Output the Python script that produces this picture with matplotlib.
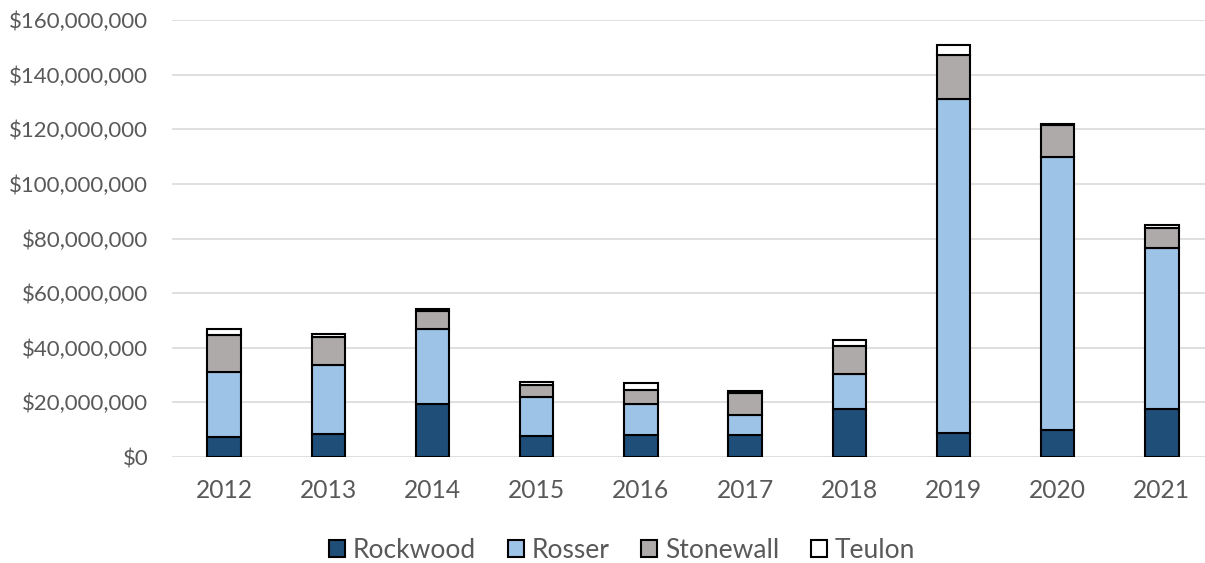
import matplotlib
matplotlib.use("Agg")
import matplotlib.pyplot as plt
from matplotlib.ticker import FuncFormatter, MultipleLocator
from matplotlib.patches import Patch
import numpy as np

years = ["2012", "2013", "2014", "2015", "2016", "2017", "2018", "2019", "2020", "2021"]
series_names = ["Rockwood", "Rosser", "Stonewall", "Teulon"]
# cumulative tops of each segment (millions of dollars)
rockwood_top = [7.4, 8.3, 19.5, 7.8, 8.1, 7.9, 17.6, 8.9, 9.9, 17.5]
rosser_top = [31.1, 33.8, 47.0, 22.0, 19.4, 15.3, 30.3, 131.0, 110.0, 76.6]
stonewall_top = [44.7, 43.8, 53.5, 26.4, 24.5, 23.6, 40.8, 147.3, 121.4, 83.8]
teulon_top = [46.7, 45.0, 54.3, 27.4, 27.0, 24.3, 42.9, 150.9, 121.9, 85.1]

rockwood = np.array(rockwood_top) * 1e6
rosser = (np.array(rosser_top) - np.array(rockwood_top)) * 1e6
stonewall = (np.array(stonewall_top) - np.array(rosser_top)) * 1e6
teulon = (np.array(teulon_top) - np.array(stonewall_top)) * 1e6

colors = ["#1F4E79", "#9DC3E6", "#AEAAAA", "#FFFFFF"]
text_color = "#595959"
font = "Lato"

fig = plt.figure(figsize=(12.05, 5.63), dpi=100)
ax = fig.add_axes([172 / 1205, 1 - 457 / 563, (1214 - 172) / 1205, (457 - 20) / 563])

x = np.arange(len(years))
w = 0.32
bottom = np.zeros(len(years))
for vals, c, name in zip([rockwood, rosser, stonewall, teulon], colors, series_names):
    ax.bar(x, vals, w, bottom=bottom, color=c, edgecolor="black", linewidth=1.5, label=name, zorder=3)
    bottom = bottom + vals

ax.set_xlim(-0.5, len(years) - 0.5)
ax.set_ylim(0, 160e6)
ax.yaxis.set_major_locator(MultipleLocator(20e6))
ax.yaxis.set_major_formatter(FuncFormatter(lambda v, p: "${:,.0f}".format(v)))
ax.set_xticks(x)
ax.set_xticklabels(years)
ax.grid(axis="y", color="#D9D9D9", linewidth=1.2, zorder=0)
for s in ax.spines.values():
    s.set_visible(False)
ax.tick_params(axis="both", length=0, colors=text_color)
ax.tick_params(axis="y", pad=17, labelsize=16)
ax.tick_params(axis="x", pad=16, labelsize=17.7)
for lab in ax.get_xticklabels() + ax.get_yticklabels():
    lab.set_fontfamily(font)

handles = [Patch(facecolor=c, edgecolor="black", linewidth=1.5) for c in colors]
fig.legend(handles, series_names, loc="center", bbox_to_anchor=(622 / 1205, 1 - 550 / 563),
           ncol=4, frameon=False, prop={"family": font, "size": 19},
           handlelength=0.6, handleheight=0.6, handletextpad=0.3, columnspacing=1.2,
           labelcolor=text_color, borderpad=0)

fig.savefig("out.png", dpi=100)
